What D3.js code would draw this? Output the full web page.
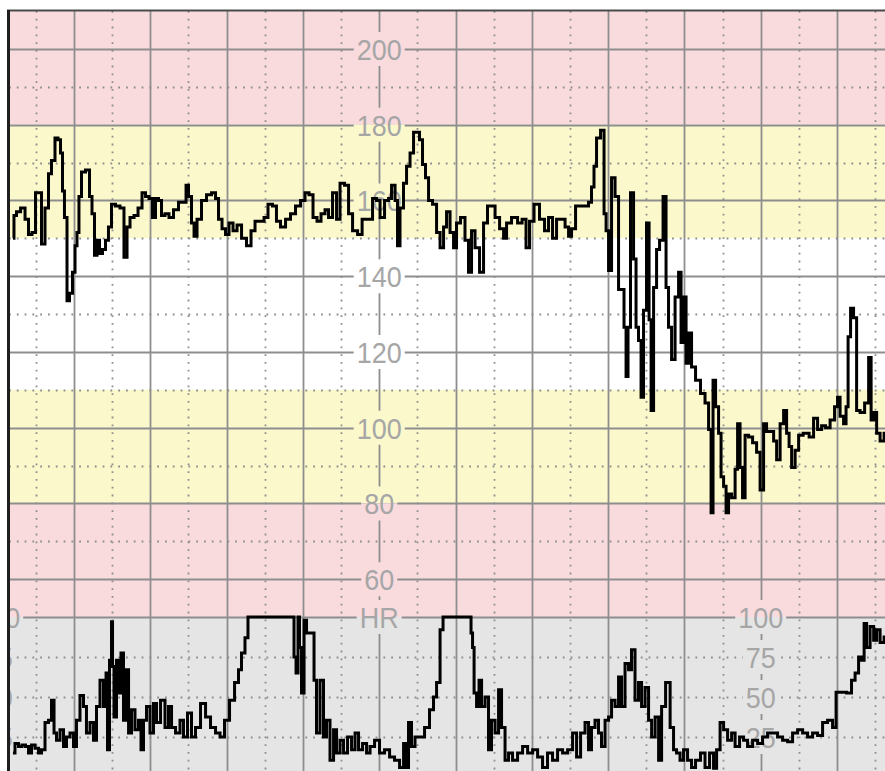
<!DOCTYPE html>
<html>
<head>
<meta charset="utf-8">
<script src="https://cdn.jsdelivr.net/npm/d3@7"></script>
<style>
body { margin: 0; background: #fff; }
svg { display: block; }
.label { font-family: 'Liberation Sans', Arial, sans-serif; font-size: 30px; fill: #a6a6a6; }
</style>
</head>
<body>
<script>
// scale labels
const fhrLabelValues = [200, 180, 160, 140, 120, 100, 80, 60]
const tocoLabelValues = [100, 75, 50, 25]
const hrLabel = 'HR'

// background bands, bpm
const fhrBandEdges = [[180, 210], [150, 180], [110, 150], [80, 110], [50, 80]]
const tocoBandEdges = [[0, 100]]

// fetal heart rate trace: [seconds, bpm]
const fhrTrace = [[12,150],[13.6,156],[16,157],[20,158],[23,155],[25.4,151],[28.5,151.5],[31,162],[33.3,162],[35.6,148.5],[38.8,158],[41.1,167],[43.5,170.5],[46.6,176.5],[48.2,176],[50.6,172.5],[51.3,162.5],[53.7,155.5],[55.3,133.5],[57.6,135.5],[60,141],[61.6,148],[63.1,151.5],[64.7,161],[67.1,167.5],[71,168],[73.4,161],[74.9,156.5],[77.3,145.5],[78.9,149.5],[81.2,146],[83.6,147],[85.9,149.5],[88.3,153],[90.7,159],[94.6,158.5],[97.7,158],[100.9,145],[102.5,153],[105.6,155.5],[108.8,156],[111.9,158],[115.1,162],[117.4,161],[120.6,160.5],[122.9,155.5],[125.3,160.5],[127.6,160],[130,156],[133.1,156.5],[136.3,155.5],[140.2,157.5],[144.1,159.5],[147.3,159.5],[148.9,164],[151.2,161],[153.6,154],[155.2,150.5],[158.3,155],[162.2,160],[166.2,161.5],[170.1,162],[172.5,160.5],[174.8,155],[178,152.5],[180.3,151],[183.5,154],[186.6,152],[189.8,153.5],[193.7,150],[197.6,148],[200.8,152],[203.9,154.5],[207.9,154.5],[211,155.5],[214.1,159],[218,158.5],[220.4,154.5],[224.4,153],[228.3,155],[232.2,156.5],[236.2,158.5],[240.1,160],[243.2,162],[246.4,161.5],[249.5,155.5],[252.7,154.5],[255.8,156.5],[259,157.5],[261.3,155.5],[265.3,162],[267.6,155],[270.8,164.5],[274.7,164],[277.1,156.5],[281,152],[285,151],[288.1,155],[292.8,155],[296.7,160.5],[299.1,160],[302.2,155.5],[306.2,160],[308.5,160.5],[310.9,164],[314,160],[314.8,148],[317.9,158],[320.3,164.5],[322.7,169],[325.8,172.5],[328.2,178],[330.5,178],[332.9,176],[335.2,169.5],[337.6,166],[340,160],[343.9,159],[346.3,151.5],[349.4,147.5],[351.8,153],[354.1,157],[357.3,151.5],[359.6,147.5],[362,154],[365.9,155.5],[369,149.5],[371.4,141],[373.8,152],[376.9,147.5],[380.9,141],[383.2,154],[387.1,158.5],[389.5,158.5],[392.7,155.5],[396.6,152.5],[399,150],[401.3,154],[406.8,155.5],[410.8,154],[413.9,155],[417,147.5],[419.4,154.5],[424.1,159],[428,155],[432,152],[434.3,155.5],[438.3,150],[440.6,155],[444.6,155],[447.7,153],[450.1,150.5],[452.4,152.5],[456.4,158.5],[463.4,158.5],[465.8,159.5],[468.1,163.5],[469.7,169],[472.1,176.5],[476,178.5],[477.6,156.5],[479.2,152],[481.5,141.5],[483.9,166],[487,161],[489.4,136.5],[491.7,136.5],[493.3,126.5],[494.9,113.5],[496.4,126.5],[498.8,162],[501.2,144.5],[502.7,126.5],[505.1,123],[506.7,108],[509,131],[511.4,154],[513,128.5],[514.6,104.5],[516.9,137],[519.3,147],[521.6,149.5],[524.8,161],[526.3,137],[528.7,126.5],[531.1,118],[534.2,134.5],[536.6,141],[538.1,122.5],[540.5,134.5],[542.1,117],[544.4,125],[546.8,116],[550.7,112.5],[554.6,109],[557.8,106.5],[560.2,99.5],[561.7,77.5],[563.3,112.5],[565.7,105.5],[568,98.5],[569.6,87],[572,84.5],[573.5,77.5],[575.9,82.5],[578.3,81.5],[581.4,89],[582.2,101],[585.3,89.5],[586.1,81.5],[589.3,98],[591.6,97.5],[595.6,96],[597.9,93.5],[601.1,83.5],[603.4,101],[605.8,99],[609,99],[611.3,96.5],[613.7,91.5],[616.8,101],[619.2,104.5],[621.5,98.5],[623.1,95],[625.5,89.5],[628.6,94],[631,98],[635.7,98.5],[640.4,97.5],[642.7,102.5],[646.7,99.5],[649,100.5],[653,100],[656.1,102],[660,105.5],[660.8,108],[664,103],[666.3,101],[667.9,105.5],[669.5,124],[671.8,131.5],[674.2,129],[676.6,104.5],[679.7,104],[683.7,106.5],[686,118.5],[687.6,102],[690,104],[692.3,98.5],[695.4,96.5],[698.6,98.5]]

// uterine activity trace: [seconds, value 0-100]
const tocoTrace = [[12,15],[15.2,21],[17.5,19],[20.7,20],[23,19],[25.4,15],[27.8,20],[30.9,18],[33.3,15],[35.6,17],[38.8,34],[41.1,35.5],[43.5,48],[45.1,27.5],[47.4,23],[50.6,29.5],[52.9,19],[55.3,25],[58.4,27.5],[60.8,19],[63.1,35.5],[66.3,51],[68.6,44],[71,27.5],[74.2,34],[76.5,23],[78.9,44],[82,60.5],[84.4,44],[86,65],[86.7,17],[89.1,73],[89.9,97],[90.7,69],[92.2,37.5],[94.6,73],[96.2,52.5],[97.7,77.5],[100.1,35.5],[101.7,67],[104.1,27.5],[106.4,42],[109.5,29.5],[111.9,35.5],[113.5,17],[115.8,35.5],[118.2,44],[121.3,27.5],[123.7,46],[126.1,34],[130,48],[133.1,31],[135.5,44],[137.9,31],[141.8,27.5],[144.9,35.5],[147.3,25],[151.2,40],[153.6,25],[157.5,31],[161.5,46],[165.4,37.5],[169.3,31],[173.3,27.5],[176.4,25],[180.3,35.5],[184.3,48],[188.2,59],[190.5,67],[192.9,77.5],[196,87],[197.6,100],[232.2,100],[233.8,75],[235.4,65],[236.9,100],[237.7,81],[240.1,52.5],[241.7,98],[244,90],[248,90],[249.5,60.5],[251.9,27.5],[255,60.5],[257.4,25],[259.7,35.5],[262.9,10.5],[265.3,29.5],[267.6,15],[270.8,23],[273.1,15],[277.1,25],[279.4,17],[282.6,27.5],[284.9,17],[288.9,21],[291.2,15],[294.4,19],[298.3,23],[302.2,15],[306.2,17],[310.1,12.5],[314,10.5],[318,6],[320.3,21],[321.9,6],[324.2,34],[326.6,19],[329.7,25],[333.7,25],[337.6,31],[341.5,42],[343.9,50],[346.3,59],[349.4,92],[351,100],[371.4,100],[373,90],[373.8,81],[375.4,52.5],[377.7,44],[379.3,60.5],[381.7,44],[384.8,50],[387.1,17],[389.5,35.5],[392.7,27.5],[395,54.5],[397.4,31],[400.5,10.5],[402.9,15],[406.8,10.5],[410.8,15],[414.7,19],[418.7,15],[422.6,17],[426.5,12.5],[430.4,6],[434.3,15],[438.3,10.5],[442.2,17],[446.2,15],[450.1,17],[454,27.5],[456.4,12.5],[460.3,27.5],[463.4,34],[465.8,17],[468.1,31],[471.3,35.5],[473.6,27.5],[476,19],[479.2,35.5],[481.5,37.5],[483.9,48],[487,44],[489.4,62.5],[491.7,44],[494.9,71],[497.2,67],[499.6,79.5],[502.7,48],[505.1,59],[507.5,44],[510.6,56],[513,35.5],[515.4,25],[518.5,37.5],[520.9,10.5],[523.2,44],[527.2,59],[530.3,31],[532.6,17],[535,15],[538.1,10.5],[540.5,17],[544.4,10.5],[546.8,6],[550.7,10.5],[554.6,15],[557.8,6],[561.7,15],[564.1,5.5],[566.5,17],[569.6,34],[572,29.5],[575.9,23],[578.3,27.5],[581.4,19],[585.3,25],[587.7,23],[591.6,19],[595.6,23],[599.5,21],[603.4,25],[607.4,27.5],[611.3,27.5],[615.2,25],[619.2,23],[623.1,22],[627,27.5],[631,29.5],[634.9,27.5],[638.8,25],[642.7,27.5],[646.7,26],[650.6,34],[654.5,35.5],[658.5,31],[660,53],[664.8,53],[670.2,52.5],[672.6,60.5],[675.8,65],[678.1,75],[680.5,73],[682.1,96],[684.4,81],[687.6,94],[690,85.5],[692.3,92],[695.4,84],[698.6,87.5]]

let fhrBandColors = ['#f9dbde', '#fbf8cc', '#ffffff', '#fbf8cc', '#f9dbde']
let tocoBandColor = '#e5e5e5'
let gridColor = '#8e8e8e'

let width = 885
let height = 771
let plot = {left: 9, top: 11, right: 885, bottom: 771}

let svg = d3.select('body').append('svg')
    .attr('width', width)
    .attr('height', height)

// one minute = 76.3 px, time in seconds
let x = d3.scaleLinear().domain([0, 700]).range([-2.3, 887.9])
let yFhr = d3.scaleLinear().domain([50, 210]).range([617, 11])
let yToco = d3.scaleLinear().domain([0, 100]).range([777, 617])

let defs = svg.append('defs')
defs.append('clipPath').attr('id', 'plot-clip')
    .append('rect')
    .attr('x', plot.left).attr('y', plot.top)
    .attr('width', plot.right - plot.left).attr('height', plot.bottom - plot.top)

function drawBands(g) {
    g.selectAll('rect.fhr-band')
        .data(fhrBandEdges)
        .join('rect')
        .attr('class', 'fhr-band')
        .attr('x', plot.left)
        .attr('width', plot.right - plot.left)
        .attr('y', d => yFhr(d[1]))
        .attr('height', d => yFhr(d[0]) - yFhr(d[1]))
        .style('fill', (d, i) => fhrBandColors[i])
    g.selectAll('rect.toco-band')
        .data(tocoBandEdges)
        .join('rect')
        .attr('class', 'toco-band')
        .attr('x', plot.left)
        .attr('width', plot.right - plot.left)
        .attr('y', d => yToco(d[1]))
        .attr('height', d => yToco(d[0]) - yToco(d[1]))
        .style('fill', tocoBandColor)
}

let main_g = svg.append('g').attr('clip-path', 'url(#plot-clip)')

drawBands(main_g.append('g'))

// grid: solid every minute, dotted every half minute
let grid = main_g.append('g').attr('class', 'grid')

let seconds = d3.range(0, 721, 30)
grid.selectAll('line.v')
    .data(seconds)
    .join('line')
    .attr('class', 'v')
    .attr('x1', d => Math.round(x(d)) + 0.5)
    .attr('x2', d => Math.round(x(d)) + 0.5)
    .attr('y1', plot.top)
    .attr('y2', plot.bottom)
    .style('stroke', gridColor)
    .style('stroke-width', 1.8)
    .style('stroke-dasharray', d => d % 60 === 0 ? null : '1.8,6')

let bpmLines = d3.range(50, 201, 10)
grid.selectAll('line.h')
    .data(bpmLines)
    .join('line')
    .attr('class', 'h')
    .attr('x1', plot.left)
    .attr('x2', plot.right)
    .attr('y1', d => Math.round(yFhr(d)) + 0.5)
    .attr('y2', d => Math.round(yFhr(d)) + 0.5)
    .style('stroke', gridColor)
    .style('stroke-width', 1.8)
    .style('stroke-dasharray', d => d % 20 === 0 || d === 50 ? null : '1.8,6')

grid.selectAll('line.t')
    .data([25, 50, 75])
    .join('line')
    .attr('class', 't')
    .attr('x1', plot.left)
    .attr('x2', plot.right)
    .attr('y1', d => Math.round(yToco(d)) + 0.5)
    .attr('y2', d => Math.round(yToco(d)) + 0.5)
    .style('stroke', gridColor)
    .style('stroke-width', 1.8)
    .style('stroke-dasharray', '1.8,6')

// scale labels sit on the grid, with the grid knocked out behind them
let labels = []
fhrLabelValues.forEach(v => labels.push({t: 300, y: yFhr(v), text: String(v)}))
labels.push({t: 300, y: yFhr(50), text: hrLabel})
;[0, 600].forEach(t => tocoLabelValues.forEach(v => labels.push({t: t, y: yToco(v), text: String(v)})))
labels.forEach(d => { d.w = d.text === hrLabel ? 39 : d.text.length * 15 })

let knock = defs.append('clipPath').attr('id', 'label-clip')
knock.selectAll('rect')
    .data(labels)
    .join('rect')
    .attr('x', d => x(d.t) - d.w / 2 - 3)
    .attr('y', d => d.y - 17)
    .attr('width', d => d.w + 6)
    .attr('height', 34)

drawBands(main_g.append('g').attr('clip-path', 'url(#label-clip)'))

main_g.append('g')
    .selectAll('text')
    .data(labels)
    .join('text')
    .attr('class', 'label')
    .attr('x', d => x(d.t))
    .attr('y', d => d.y + 11)
    .attr('text-anchor', 'middle')
    .attr('textLength', d => d.w)
    .attr('lengthAdjust', 'spacingAndGlyphs')
    .text(d => d.text)

// traces, drawn as steps like the monitor
let fhrLine = d3.line()
    .x(d => x(d[0]))
    .y(d => yFhr(d[1]))
    .curve(d3.curveStep)

let tocoLine = d3.line()
    .x(d => x(d[0]))
    .y(d => yToco(d[1]))
    .curve(d3.curveStep)

main_g.append('path')
    .datum(fhrTrace)
    .attr('d', fhrLine)
    .style('fill', 'none')
    .style('stroke', '#000')
    .style('stroke-width', 3)

main_g.append('path')
    .datum(tocoTrace)
    .attr('d', tocoLine)
    .style('fill', 'none')
    .style('stroke', '#000')
    .style('stroke-width', 3)

// frame
svg.append('line')
    .attr('x1', 7).attr('x2', width)
    .attr('y1', 10.5).attr('y2', 10.5)
    .style('stroke', '#4a4a4a')
    .style('stroke-width', 2)

svg.append('line')
    .attr('x1', 8.5).attr('x2', 8.5)
    .attr('y1', 10).attr('y2', height)
    .style('stroke', '#1e1e1e')
    .style('stroke-width', 3)
</script>
</body>
</html>
